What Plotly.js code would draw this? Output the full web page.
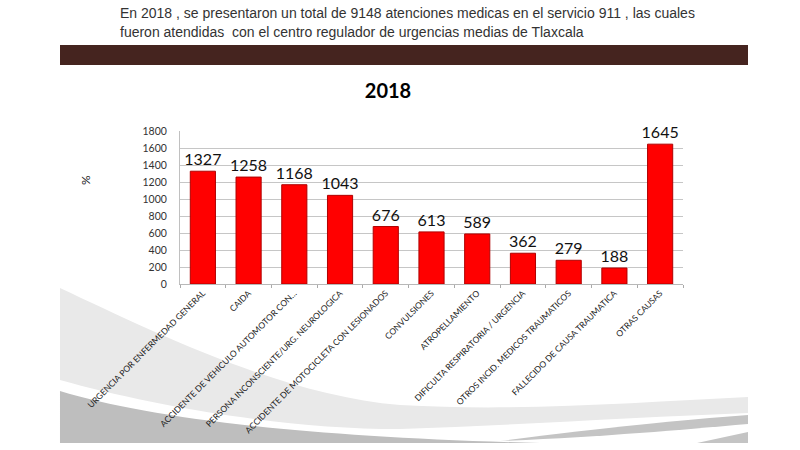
<!DOCTYPE html>
<html>
<head>
<meta charset="utf-8">
<script src="https://cdn.plot.ly/plotly-3.0.1.min.js"></script>
<style>
html,body{margin:0;padding:0;background:#fff;}
#chart{width:800px;height:450px;}
</style>
</head>
<body>
<div id="chart"></div>
<script>
// ---- data ----
const categories = [
  "URGENCIA POR ENFERMEDAD GENERAL",
  "CAIDA",
  "ACCIDENTE DE VEHICULO AUTOMOTOR CON…",
  "PERSONA INCONSCIENTE/URG. NEUROLOGICA",
  "ACCIDENTE DE MOTOCICLETA CON LESIONADOS",
  "CONVULSIONES",
  "ATROPELLAMIENTO",
  "DIFICULTA RESPIRATORIA / URGENCIA",
  "OTROS INCID. MEDICOS TRAUMATICOS",
  "FALLECIDO DE CAUSA TRAUMATICA",
  "OTRAS CAUSAS"
];
const values = [1327, 1258, 1168, 1043, 676, 613, 589, 362, 279, 188, 1645];
const yTicks = [0, 200, 400, 600, 800, 1000, 1200, 1400, 1600, 1800];
const chartTitle = "2018";
const yTitle = "%";
const introLine1 = "En 2018 , se presentaron un total de 9148 atenciones medicas en el servicio 911 , las cuales";
const introLine2 = "fueron atendidas  con el centro regulador de urgencias medias de Tlaxcala";

// ---- layout geometry (pixels) ----
const Wd = 800, Ht = 450;
const M = {l: 180, r: 117, t: 131, b: 166};
const PW = Wd - M.l - M.r, PH = Ht - M.t - M.b;
const px = x => (x - M.l) / PW;
const py = y => (Ht - M.b - y) / PH;
const pth = s => s.replace(/(-?\d+\.?\d*),(-?\d+\.?\d*)/g, (m, a, b) => px(+a).toFixed(4) + "," + py(+b).toFixed(4));

const shapes = [
  // dark header band
  {type:"rect", xref:"paper", yref:"paper", x0:px(60), x1:px(748), y0:py(45), y1:py(65),
   fillcolor:"#45241f", line:{width:0}, layer:"below"},
  // light swoosh
  {type:"path", xref:"paper", yref:"paper", layer:"below", fillcolor:"#e9e9e9", line:{width:0},
   path: pth("M60,288 C150,330 280,395 400,405 C520,412 640,402 748,397 L748,413 C640,417 520,425 400,429 C280,429 150,405 60,380 Z")},
  // dark swoosh bottom-left
  {type:"path", xref:"paper", yref:"paper", layer:"below", fillcolor:"#bebebe", line:{width:0},
   path: pth("M60,391 C150,418 300,437 540,443 L60,443 Z")},
  // dark swoosh right
  {type:"path", xref:"paper", yref:"paper", layer:"below", fillcolor:"#c4c4c4", line:{width:0},
   path: pth("M500,441 C600,428 680,420 748,415 L748,424 C680,430 600,437 500,441 Z")},
  {type:"path", xref:"paper", yref:"paper", layer:"below", fillcolor:"#c4c4c4", line:{width:0},
   path: pth("M697,443 L748,432 L748,443 Z")}
];

const trace = {
  type: "bar",
  x: categories,
  y: values,
  text: values.map(String),
  textposition: "outside",
  constraintext: "none",
  cliponaxis: false,
  textfont: {family: "Lato, sans-serif", size: 16, color: "#111"},
  marker: {color: "#ff0000", line: {color: "#b00000", width: 1}},
  hoverinfo: "x+y"
};

const layout = {
  width: Wd, height: Ht,
  margin: M,
  paper_bgcolor: "#ffffff",
  plot_bgcolor: "rgba(0,0,0,0)",
  showlegend: false,
  bargap: 0.45,
  uniformtext: {mode: false},
  title: {text: "<b>" + chartTitle + "</b>", xref: "container", yref: "container",
          x: 388/Wd, y: 1 - 91/Ht, xanchor: "center", yanchor: "middle",
          font: {family: "Lato, sans-serif", size: 20, color: "#000"}},
  xaxis: {
    type: "category",
    tickangle: -45,
    tickfont: {family: "Lato, sans-serif", size: 8.5, color: "#222"},
    ticks: "outside", tickson: "boundaries", ticklen: 3, tickcolor: "#aaa",
    showline: true, linecolor: "#b8b8b8", linewidth: 1,
    showgrid: false
  },
  yaxis: {
    range: [0, 1800],
    tickvals: yTicks,
    tickfont: {family: "Lato, sans-serif", size: 10.5, color: "#333"},
    ticklabelstandoff: 10,
    showgrid: true, gridcolor: "#c6c6c6", gridwidth: 1,
    showline: true, linecolor: "#c0c0c0",
    zeroline: false
  },
  shapes: shapes,
  annotations: [
    {xref:"paper", yref:"paper", x:px(118), y:py(13), xanchor:"left", yanchor:"middle", showarrow:false,
     text: introLine1, font:{family:"Liberation Sans Narrow, Arial Narrow, Liberation Sans, sans-serif", size:14, color:"#333"}},
    {xref:"paper", yref:"paper", x:px(118), y:py(32), xanchor:"left", yanchor:"middle", showarrow:false,
     text: introLine2, font:{family:"Liberation Sans Narrow, Arial Narrow, Liberation Sans, sans-serif", size:14, color:"#333"}},
    {xref:"paper", yref:"paper", x:px(85), y:py(180), xanchor:"center", yanchor:"middle", showarrow:false,
     textangle:-90, text: yTitle, font:{family:"Lato, sans-serif", size:12, color:"#222"}}
  ]
};

Plotly.newPlot("chart", [trace], layout, {displayModeBar: false, staticPlot: true});
</script>
</body>
</html>
